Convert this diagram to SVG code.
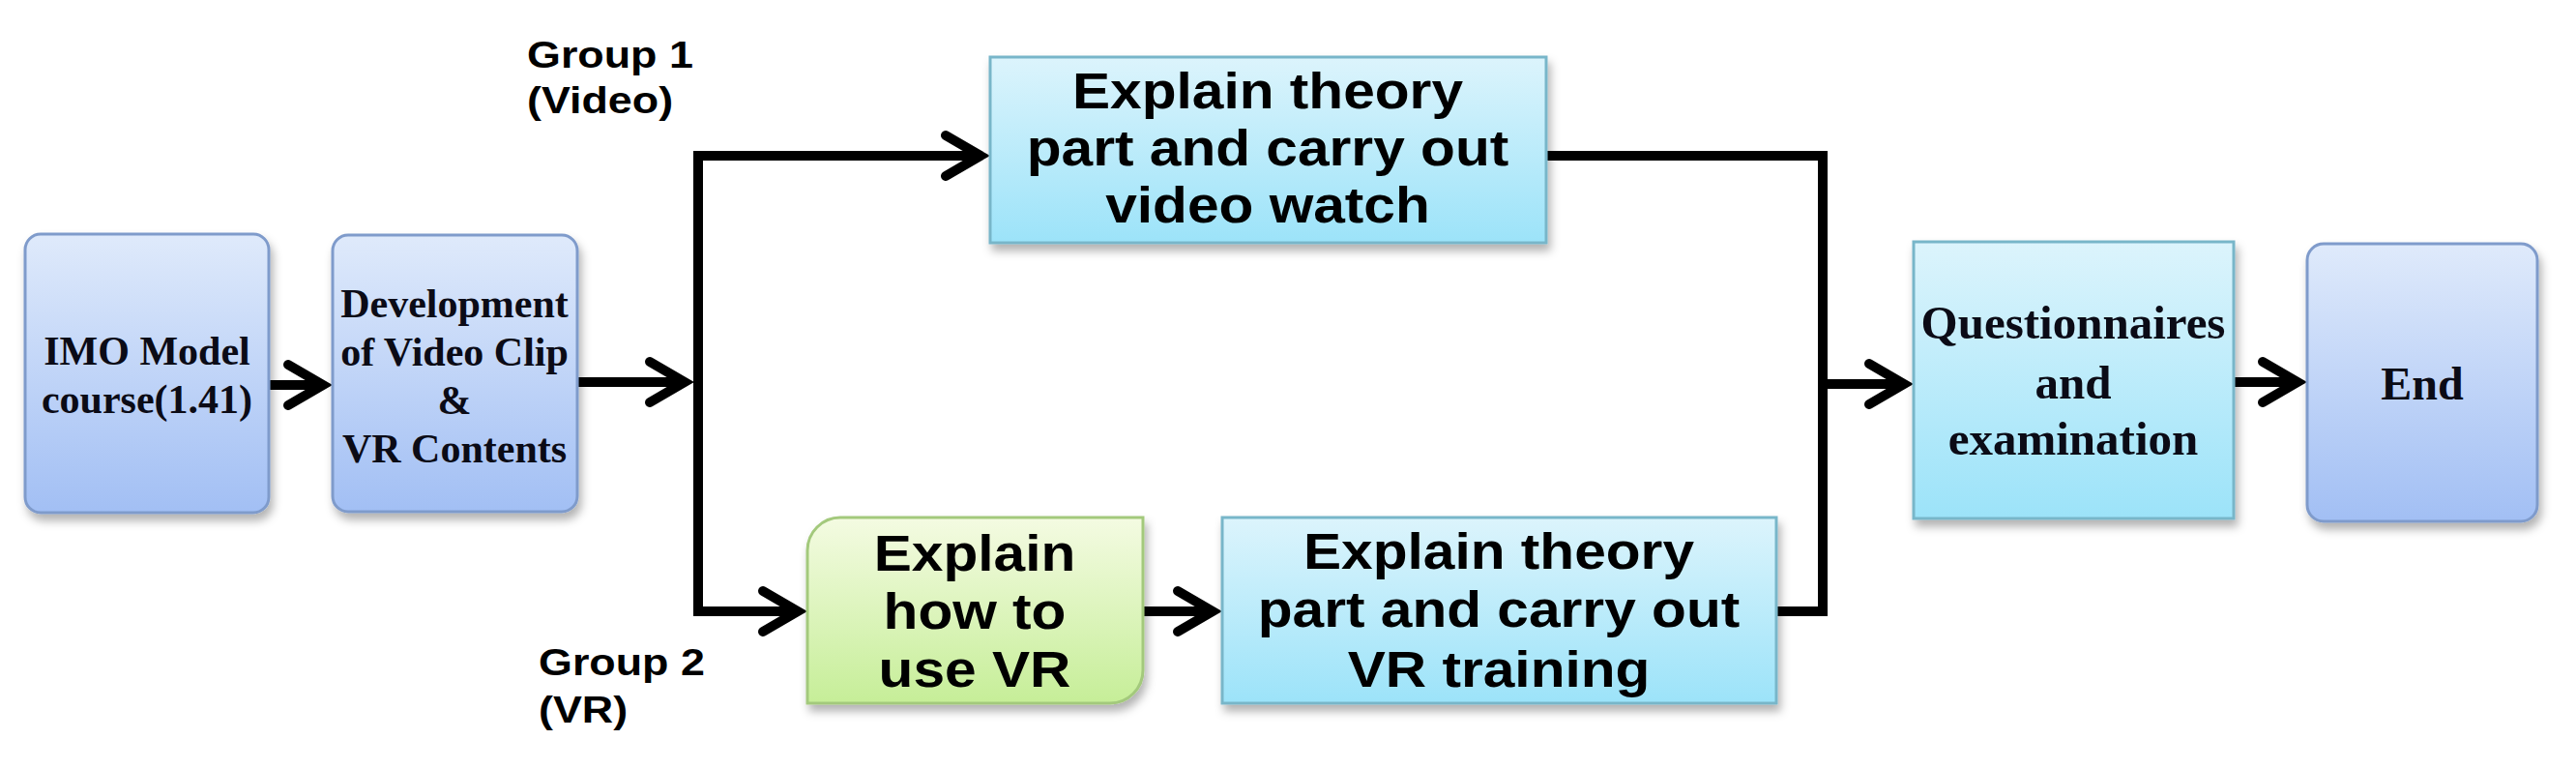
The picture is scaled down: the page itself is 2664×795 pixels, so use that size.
<svg xmlns="http://www.w3.org/2000/svg" width="2664" height="795" viewBox="0 0 2664 795">
  <defs>
    <linearGradient id="gBlue" x1="0" y1="0" x2="0" y2="1">
      <stop offset="0" stop-color="#dfeafb"/>
      <stop offset="1" stop-color="#a2bff4"/>
    </linearGradient>
    <linearGradient id="gCyan" x1="0" y1="0" x2="0" y2="1">
      <stop offset="0" stop-color="#dcf4fc"/>
      <stop offset="1" stop-color="#9ce3f9"/>
    </linearGradient>
    <linearGradient id="gGreen" x1="0" y1="0" x2="0" y2="1">
      <stop offset="0" stop-color="#f4fbe2"/>
      <stop offset="1" stop-color="#c6ee98"/>
    </linearGradient>
    <filter id="shadow" x="-10%" y="-10%" width="130%" height="130%">
      <feDropShadow dx="3" dy="7" stdDeviation="5" flood-color="#000" flood-opacity="0.3"/>
    </filter>
    <marker id="arrow" markerUnits="userSpaceOnUse" viewBox="-50 -30 60 60" markerWidth="60" markerHeight="60" refX="-4" refY="0" orient="auto">
      <path d="M-36,-21 L0,0 L-36,21" fill="none" stroke="#000" stroke-width="10" stroke-linecap="round" stroke-linejoin="miter"/>
    </marker>
    <style>
      .rblue { fill: url(#gBlue); stroke: #7f9bcb; stroke-width: 3; filter: url(#shadow); }
      .rcyan { fill: url(#gCyan); stroke: #78b6c9; stroke-width: 3; filter: url(#shadow); }
      .rgreen { fill: url(#gGreen); stroke: #a3c97c; stroke-width: 3; filter: url(#shadow); }
      .serif { font-family: "Liberation Serif", "Times New Roman", serif; font-weight: bold; fill: #0b0b16; text-anchor: middle; }
      .sans { font-family: "Liberation Sans", Arial, sans-serif; font-weight: bold; fill: #000; text-anchor: middle; font-size: 51px; }
      .label { font-family: "Liberation Sans", Arial, sans-serif; font-weight: bold; fill: #000; font-size: 39px; }
      .conn { fill: none; stroke: #000; stroke-width: 10; stroke-linejoin: miter; }
    </style>
  </defs>
  <rect width="2664" height="795" fill="#ffffff"/>

  <g id="connectors">
    <path class="conn" d="M278,398 H330" marker-end="url(#arrow)"/>
    <path class="conn" d="M597,395 H704" marker-end="url(#arrow)"/>
    <path class="conn" d="M722,395 V161 H1010" marker-end="url(#arrow)"/>
    <path class="conn" d="M722,395 V632 H821" marker-end="url(#arrow)"/>
    <path class="conn" d="M1182,632 H1250" marker-end="url(#arrow)"/>
    <path class="conn" d="M1599,161 H1885 V632 H1837"/>
    <path class="conn" d="M1885,397 H1965" marker-end="url(#arrow)"/>
    <path class="conn" d="M2310,395 H2372" marker-end="url(#arrow)"/>
  </g>

  <g id="node-imo">
    <rect class="rblue" x="26" y="242" width="252" height="288" rx="16"/>
    <text class="serif" font-size="42"><tspan x="152" y="377">IMO Model</tspan><tspan x="152" y="427">course(1.41)</tspan></text>
  </g>

  <g id="node-dev">
    <rect class="rblue" x="344" y="243" width="253" height="286" rx="16"/>
    <text class="serif" font-size="42"><tspan x="470" y="328">Development</tspan><tspan x="470" y="378">of Video Clip</tspan><tspan x="470" y="428">&amp;</tspan><tspan x="470" y="478">VR Contents</tspan></text>
  </g>

  <g id="label-group1">
    <text class="label" transform="translate(545,0) scale(1.15,1)"><tspan x="0" y="70">Group 1</tspan><tspan x="0" y="117">(Video)</tspan></text>
  </g>

  <g id="label-group2">
    <text class="label" transform="translate(557,0) scale(1.15,1)"><tspan x="0" y="698">Group 2</tspan><tspan x="0" y="747">(VR)</tspan></text>
  </g>

  <g id="node-video">
    <rect class="rcyan" x="1024" y="59" width="575" height="192"/>
    <text class="sans" transform="translate(1311,0) scale(1.15,1)"><tspan x="0" y="112">Explain theory</tspan><tspan x="0" y="171">part and carry out</tspan><tspan x="0" y="230">video watch</tspan></text>
  </g>

  <g id="node-howto">
    <path class="rgreen" d="M869,535 H1182 V693 A34,34 0 0 1 1148,727 H835 V569 A34,34 0 0 1 869,535 Z"/>
    <text class="sans" transform="translate(1008,0) scale(1.15,1)"><tspan x="0" y="590">Explain</tspan><tspan x="0" y="650">how to</tspan><tspan x="0" y="710">use VR</tspan></text>
  </g>

  <g id="node-vr">
    <rect class="rcyan" x="1264" y="535" width="573" height="192"/>
    <text class="sans" transform="translate(1550,0) scale(1.15,1)"><tspan x="0" y="588">Explain theory</tspan><tspan x="0" y="648">part and carry out</tspan><tspan x="0" y="710">VR training</tspan></text>
  </g>

  <g id="node-quest">
    <rect class="rcyan" x="1979" y="250" width="331" height="286"/>
    <text class="serif" font-size="49"><tspan x="2144" y="350">Questionnaires</tspan><tspan x="2144" y="412">and</tspan><tspan x="2144" y="470">examination</tspan></text>
  </g>

  <g id="node-end">
    <rect class="rblue" x="2386" y="252" width="238" height="287" rx="17"/>
    <text class="serif" font-size="48"><tspan x="2505" y="413">End</tspan></text>
  </g>
</svg>
